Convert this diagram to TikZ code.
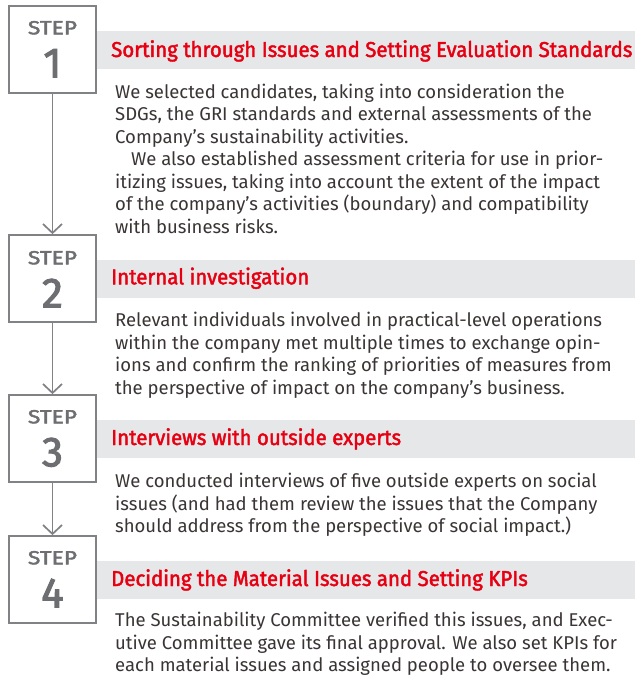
\documentclass[tikz,border=0pt]{standalone}
\usepackage{fontspec}
\usetikzlibrary{arrows.meta}
\newfontfamily\bodyfont[FakeStretch=1.0]{Fira Sans}
\newfontfamily\titlefont[FakeStretch=0.95,FakeBold=2]{Fira Sans}
\newfontfamily\stepfont[FakeBold=2.5]{Fira Sans}
\newfontfamily\steplblfont[FakeBold=2.2,FakeStretch=1.2]{Fira Sans}
\definecolor{txt}{HTML}{3A3434}
\definecolor{red}{HTML}{E60012}
\definecolor{band}{HTML}{E6E7E8}
\definecolor{stepgray}{HTML}{6D6E71}
\definecolor{linegray}{HTML}{808285}
\tikzset{
  body/.style={anchor=base west,inner sep=0pt,text=txt,font=\bodyfont\fontsize{18.5}{22}\selectfont},
  ttl/.style={anchor=base west,inner sep=0pt,text=red,font=\titlefont\fontsize{21.5}{24}\selectfont},
  steplbl/.style={anchor=base,inner sep=0pt,text=stepgray,font=\steplblfont\fontsize{19}{20}\selectfont},
  stepnum/.style={anchor=base,inner sep=0pt,text=stepgray,font=\stepfont\fontsize{42}{44}\selectfont},
  stepbox/.style={draw=linegray,line width=1.7pt,fill=white,minimum width=87pt,minimum height=87pt,inner sep=0pt},
  bandbox/.style={fill=band,draw=none,inner sep=0pt,anchor=north west,minimum width=539pt,minimum height=38pt},
  flow/.style={draw=linegray,line width=1.7pt,-{Straight Barb[length=9pt,width=19pt,line width=1.7pt]}},
}
\begin{document}
\begin{tikzpicture}[x=1pt,y=-1pt]
\useasboundingbox (0,0) rectangle (635,676);
% bands
\node[bandbox] (b1) at (96,31) {};
\node[bandbox] (b2) at (96,260) {};
\node[bandbox] (b3) at (96,420) {};
\node[bandbox] (b4) at (96,561) {};
% step boxes
\node[stepbox] (s1) at (52.5,49.5) {};
\node[stepbox] (s2) at (52.5,278.5) {};
\node[stepbox] (s3) at (52.5,438.5) {};
\node[stepbox] (s4) at (52.5,579.5) {};
\node[steplbl] (l1) at (52.5,34.3) {STEP};
\node[stepnum] (n1) at (52.5,77.3) {1};
\node[steplbl] (l2) at (52.5,264.3) {STEP};
\node[stepnum] (n2) at (52.5,307.3) {2};
\node[steplbl] (l3) at (52.5,423.3) {STEP};
\node[stepnum] (n3) at (52.5,466.3) {3};
\node[steplbl] (l4) at (52.5,564.3) {STEP};
\node[stepnum] (n4) at (52.5,607.3) {4};
% connectors
\draw[flow] (s1.south) -- (s2.north);
\draw[flow] (s2.south) -- (s3.north);
\draw[flow] (s3.south) -- (s4.north);
% titles
\node[ttl] (t1) at (111,57) {Sorting through Issues and Setting Evaluation Standards};
\node[ttl] (t2) at (111,284.3) {Internal investigation};
\node[ttl] (t3) at (111,445) {Interviews with outside experts};
\node[ttl] (t4) at (111,586) {Deciding the Material Issues and Setting KPIs};
% paragraph 1
\node[body] (a1) at (115,98.3) {We selected candidates, taking into consideration the};
\node[body] (a2) at (115,120.8) {SDGs, the GRI standards and external assessments of the};
\node[body] (a3) at (115,143.3) {Company’s sustainability activities.};
\node[body] (a4) at (131,165.8) {We also established assessment criteria for use in prior-};
\node[body] (a5) at (115,188.3) {itizing issues, taking into account the extent of the impact};
\node[body] (a6) at (115,210.8) {of the company’s activities (boundary) and compatibility};
\node[body] (a7) at (115,233.3) {with business risks.};
% paragraph 2
\node[body] (c1) at (115,326.7) {Relevant individuals involved in practical-level operations};
\node[body] (c2) at (115,349.2) {within the company met multiple times to exchange opin-};
\node[body] (c3) at (115,371.7) {ions and confirm the ranking of priorities of measures from};
\node[body] (c4) at (115,394.2) {the perspective of impact on the company’s business.};
% paragraph 3
\node[body] (d1) at (115,487.7) {We conducted interviews of five outside experts on social};
\node[body] (d2) at (115,510.2) {issues (and had them review the issues that the Company};
\node[body] (d3) at (115,532.7) {should address from the perspective of social impact.)};
% paragraph 4
\node[body] (e1) at (115,626.7) {The Sustainability Committee verified this issues, and Exec-};
\node[body] (e2) at (115,649.2) {utive Committee gave its final approval. We also set KPIs for};
\node[body] (e3) at (115,671.7) {each material issues and assigned people to oversee them.};
\end{tikzpicture}
\end{document}
